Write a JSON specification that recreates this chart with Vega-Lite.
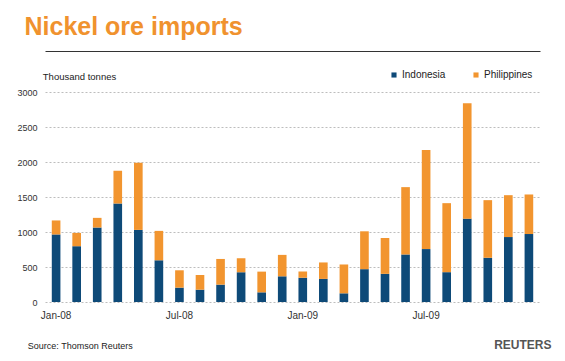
{
  "$schema": "https://vega.github.io/schema/vega-lite/v6.json",
  "width": 495,
  "height": 210,
  "autosize": {"type": "none"},
  "padding": {"left": 45, "top": 92, "right": 25, "bottom": 59},
  "background": "white",
  "title": {
    "text": "Nickel ore imports",
    "anchor": "start",
    "frame": "group",
    "font": "Liberation Sans",
    "fontSize": 25,
    "fontWeight": "bold",
    "color": "#f0922e",
    "dx": -20.5,
    "dy": -7
  },
  "data": {
    "values": [
      {"month": "Jan-08", "country": "Indonesia", "value": 965},
      {"month": "Jan-08", "country": "Philippines", "value": 200},
      {"month": "Feb-08", "country": "Indonesia", "value": 797},
      {"month": "Feb-08", "country": "Philippines", "value": 190},
      {"month": "Mar-08", "country": "Indonesia", "value": 1064},
      {"month": "Mar-08", "country": "Philippines", "value": 138},
      {"month": "Apr-08", "country": "Indonesia", "value": 1407},
      {"month": "Apr-08", "country": "Philippines", "value": 468},
      {"month": "May-08", "country": "Indonesia", "value": 1030},
      {"month": "May-08", "country": "Philippines", "value": 959},
      {"month": "Jun-08", "country": "Indonesia", "value": 596},
      {"month": "Jun-08", "country": "Philippines", "value": 420},
      {"month": "Jul-08", "country": "Indonesia", "value": 205},
      {"month": "Jul-08", "country": "Philippines", "value": 248},
      {"month": "Aug-08", "country": "Indonesia", "value": 176},
      {"month": "Aug-08", "country": "Philippines", "value": 210},
      {"month": "Sep-08", "country": "Indonesia", "value": 248},
      {"month": "Sep-08", "country": "Philippines", "value": 367},
      {"month": "Oct-08", "country": "Indonesia", "value": 425},
      {"month": "Oct-08", "country": "Philippines", "value": 200},
      {"month": "Nov-08", "country": "Indonesia", "value": 138},
      {"month": "Nov-08", "country": "Philippines", "value": 296},
      {"month": "Dec-08", "country": "Indonesia", "value": 367},
      {"month": "Dec-08", "country": "Philippines", "value": 306},
      {"month": "Jan-09", "country": "Indonesia", "value": 345},
      {"month": "Jan-09", "country": "Philippines", "value": 90},
      {"month": "Feb-09", "country": "Indonesia", "value": 330},
      {"month": "Feb-09", "country": "Philippines", "value": 235},
      {"month": "Mar-09", "country": "Indonesia", "value": 124},
      {"month": "Mar-09", "country": "Philippines", "value": 412},
      {"month": "Apr-09", "country": "Indonesia", "value": 469},
      {"month": "Apr-09", "country": "Philippines", "value": 541},
      {"month": "May-09", "country": "Indonesia", "value": 402},
      {"month": "May-09", "country": "Philippines", "value": 512},
      {"month": "Jun-09", "country": "Indonesia", "value": 679},
      {"month": "Jun-09", "country": "Philippines", "value": 962},
      {"month": "Jul-09", "country": "Indonesia", "value": 756},
      {"month": "Jul-09", "country": "Philippines", "value": 1416},
      {"month": "Aug-09", "country": "Indonesia", "value": 426},
      {"month": "Aug-09", "country": "Philippines", "value": 986},
      {"month": "Sep-09", "country": "Indonesia", "value": 1191},
      {"month": "Sep-09", "country": "Philippines", "value": 1647},
      {"month": "Oct-09", "country": "Indonesia", "value": 632},
      {"month": "Oct-09", "country": "Philippines", "value": 823},
      {"month": "Nov-09", "country": "Indonesia", "value": 928},
      {"month": "Nov-09", "country": "Philippines", "value": 598},
      {"month": "Dec-09", "country": "Indonesia", "value": 971},
      {"month": "Dec-09", "country": "Philippines", "value": 565}
    ]
  },
  "layer": [
    {
      "mark": {"type": "bar"},
      "encoding": {
        "x": {
          "field": "month",
          "type": "ordinal",
          "sort": null,
          "scale": {"paddingInner": 0.58, "paddingOuter": 0.33},
          "axis": {
            "orient": "bottom",
            "values": ["Jan-08", "Jul-08", "Jan-09", "Jul-09"],
            "labelAngle": 0,
            "ticks": false,
            "tickSize": 0,
            "domain": false,
            "grid": false,
            "labelFont": "Liberation Sans",
            "labelFontSize": 10,
            "labelColor": "#333333",
            "labelPadding": 8,
            "title": "Source: Thomson Reuters",
            "titleFont": "Liberation Sans",
            "titleFontSize": 9,
            "titleFontWeight": "normal",
            "titleColor": "#222222",
            "titleAnchor": "start",
            "titleAlign": "left",
            "titleBaseline": "alphabetic",
            "titleX": -17.7,
            "titleY": 46.5
          }
        },
        "y": {
          "field": "value",
          "type": "quantitative",
          "stack": "zero",
          "scale": {"domain": [0, 3000], "nice": false},
          "axis": {
            "values": [0, 500, 1000, 1500, 2000, 2500, 3000],
            "format": "d",
            "grid": true,
            "gridDash": [2, 2],
            "gridColor": "#bdbdbd",
            "gridWidth": 1,
            "domain": false,
            "ticks": false,
            "tickSize": 0,
            "labelPadding": 8,
            "labelFont": "Liberation Sans",
            "labelFontSize": 9,
            "labelColor": "#333333",
            "title": "Thousand tonnes",
            "titleFont": "Liberation Sans",
            "titleFontSize": 9.5,
            "titleFontWeight": "normal",
            "titleColor": "#222222",
            "titleAngle": 0,
            "titleAnchor": "start",
            "titleAlign": "left",
            "titleBaseline": "alphabetic",
            "titleX": -2.7,
            "titleY": -13
          }
        },
        "order": {"field": "country", "sort": "ascending"},
        "color": {
          "field": "country",
          "type": "nominal",
          "scale": {"domain": ["Indonesia", "Philippines"], "range": ["#0e4a78", "#f2952f"]},
          "legend": {
            "title": null,
            "orient": "none",
            "direction": "horizontal",
            "legendX": 344,
            "legendY": -22,
            "symbolType": "square",
            "symbolSize": 26,
            "symbolStrokeWidth": 0,
            "labelOffset": 3,
            "columnPadding": 25,
            "padding": 0,
            "labelFont": "Liberation Sans",
            "labelFontSize": 10,
            "labelColor": "#222222"
          }
        }
      }
    },
    {
      "mark": {"type": "bar", "opacity": 0},
      "encoding": {
        "x": {
          "field": "month",
          "type": "ordinal",
          "sort": null,
          "axis": {
            "orient": "top",
            "labels": false,
            "ticks": false,
            "grid": false,
            "domain": true,
            "domainColor": "#333333",
            "domainWidth": 1,
            "offset": 41,
            "title": "REUTERS",
            "titleFont": "Liberation Sans",
            "titleFontSize": 12,
            "titleFontWeight": "bold",
            "titleColor": "#555555",
            "titleAnchor": "end",
            "titleAlign": "right",
            "titleBaseline": "alphabetic",
            "titleX": 506,
            "titleY": 297
          }
        }
      }
    }
  ],
  "resolve": {"axis": {"x": "independent"}},
  "config": {
    "view": {"stroke": null},
    "font": "Liberation Sans"
  }
}
